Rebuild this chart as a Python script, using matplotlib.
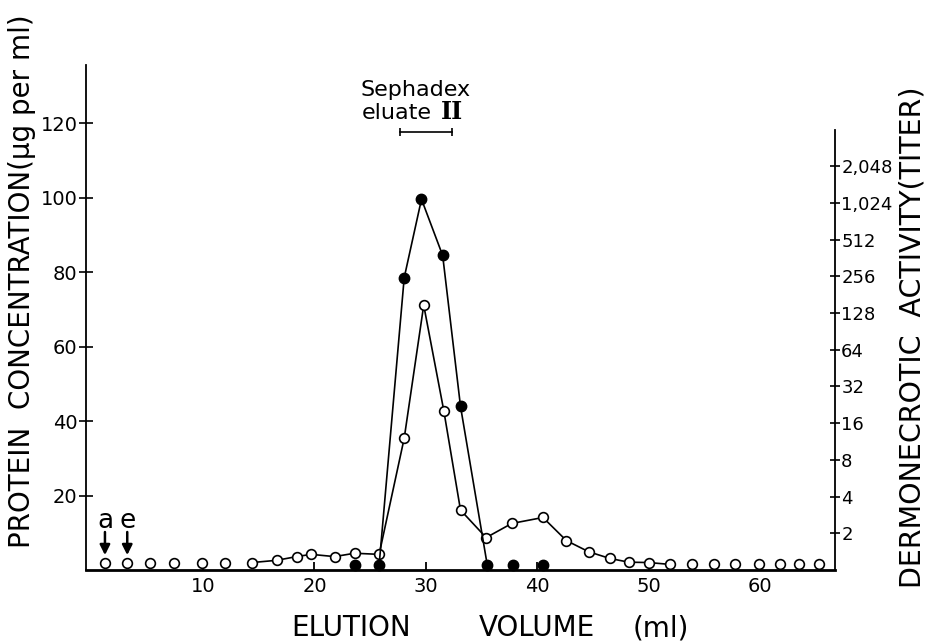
#%% Library
import matplotlib.pyplot as plt
from matplotlib.ticker import NullLocator

plt.rcParams['font.family'] = ['DejaVu Sans']

#%% data
# open circles: protein concentration (ug per ml)
vol_protein = [1.2, 3.2, 5.2, 7.4, 9.9, 12.0, 14.4, 16.6, 18.4, 19.7, 21.8, 23.6, 25.8,
               28.05, 29.8, 31.6, 33.1, 35.4, 37.7, 40.5, 42.6, 44.6, 46.5, 48.2, 50.0,
               51.9, 53.9, 55.8, 57.7, 59.9, 61.75, 63.5, 65.3]
protein = [2.0, 2.0, 2.0, 2.0, 2.0, 2.0, 2.0, 2.6, 3.6, 4.2, 3.6, 4.5, 4.2,
           35.4, 71.1, 42.8, 16.1, 8.7, 12.5, 14.1, 7.9, 4.9, 3.1, 2.1, 2.0,
           1.5, 1.5, 1.6, 1.5, 1.5, 1.6, 1.6, 1.6]

# filled circles: dermonecrotic activity (titer)
vol_titer = [23.6, 25.8, 28.05, 29.6, 31.5, 33.1, 35.5, 37.8, 40.5]
titer = [1.1, 1.1, 250, 1100, 380, 22, 1.1, 1.1, 1.1]

left_ticks = [20, 40, 60, 80, 100, 120]
x_ticks = [10, 20, 30, 40, 50, 60]
titer_ticks = [2, 4, 8, 16, 32, 64, 128, 256, 512, 1024, 2048]
titer_labels = ['2', '4', '8', '16', '32', '64', '128', '256', '512', '1,024', '2,048']

# segments joined by a line
prot_line = slice(6, 26)
titer_line = slice(1, 7)

#%% plot
W, H = 931, 643
fig = plt.figure(figsize=(W / 100, H / 100), dpi=100)
ax = fig.add_axes([86 / W, 1 - 570 / H, (835 - 86) / W, (570 - 65) / H])
ax.set_xlim(-0.5, 66.7)
ax.set_ylim(0, 135.6)

ax2 = ax.twinx()
ax2.set_yscale('log', base=2)
ax2.set_ylim(1, 2 ** 13.76)

# protein
ax.plot(vol_protein[prot_line], protein[prot_line], color='k', lw=1.2, zorder=2)
ax.plot(vol_protein, protein, 'o', ms=7, mfc='white', mec='k', mew=1.2, zorder=3,
        clip_on=False)

# titer
ax2.plot(vol_titer[titer_line], titer[titer_line], color='k', lw=1.2, zorder=2)
ax2.plot(vol_titer, titer, 'o', ms=7.5, color='k', zorder=3, clip_on=False)

# spines
for s in ['top', 'right']:
    ax.spines[s].set_visible(False)
for s in ['top', 'left', 'bottom']:
    ax2.spines[s].set_visible(False)
ax.spines['left'].set_linewidth(1.3)
ax.spines['bottom'].set_linewidth(2)
ax2.spines['right'].set_linewidth(1.3)
ax2.spines['right'].set_bounds(1, 4096)

ax.set_xticks(x_ticks)
ax.set_yticks(left_ticks)
ax.tick_params(axis='x', direction='in', length=6, width=1.3, pad=5, labelsize=14)
ax.tick_params(axis='y', direction='inout', length=10, width=1.2, pad=1, labelsize=14)

ax2.set_yticks(titer_ticks)
ax2.set_yticklabels(titer_labels)
ax2.yaxis.set_minor_locator(NullLocator())
ax2.tick_params(axis='y', direction='inout', length=7, width=1.2, pad=1, labelsize=13)

# a / e markers
for lab, v in [('a', 1.2), ('e', 3.2)]:
    ax.annotate('', xy=(v, 4.0), xytext=(v, 10.2),
                arrowprops=dict(arrowstyle='-|>', color='k', lw=1.8,
                                mutation_scale=15, shrinkA=0, shrinkB=0))
    ax.text(v, 13.2, lab, ha='center', va='center', fontsize=19)

# Sephadex eluate II
ax.text(29.05, 128.9, 'Sephadex', ha='center', va='center', fontsize=16)
ax.text(24.2, 122.7, 'eluate', ha='left', va='center', fontsize=16)
ax.text(32.3, 122.9, 'II', ha='center', va='center', fontsize=17,
        family='DejaVu Serif', weight='bold')
ax.plot([27.7, 32.3], [117.7, 117.7], color='k', lw=1.2, marker='|', ms=6,
        mew=1.2, clip_on=False)

# axis titles
fig.text(22 / W, 1 - 281 / H, 'PROTEIN  CONCENTRATION(\u03bcg per ml)', rotation=90,
         ha='center', va='center', fontsize=20)
fig.text(912 / W, 1 - 337 / H, 'DERMONECROTIC  ACTIVITY(TITER)', rotation=90,
         ha='center', va='center', fontsize=20.5)
for txt, xp in [('ELUTION', 351), ('VOLUME', 537), ('(ml)', 661)]:
    fig.text(xp / W, 1 - 628 / H, txt, ha='center', va='center', fontsize=20)

fig.savefig('out.png', dpi=100)
